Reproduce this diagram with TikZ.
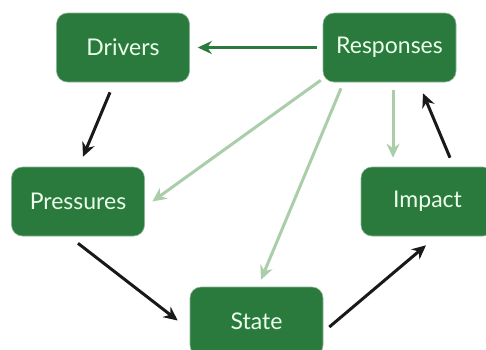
\documentclass[tikz,border=0pt]{standalone}
\usepackage{fontspec}
\setmainfont{Lato}
\usetikzlibrary{arrows.meta}
\definecolor{boxgreen}{RGB}{42,121,61}
\definecolor{palegreen}{RGB}{170,205,170}
\begin{document}
\begin{tikzpicture}[x=1pt, y=-1pt,
    stage/.style={rectangle, rounded corners=11pt, fill=boxgreen, draw=boxgreen!55!white, line width=0.6pt,
        minimum width=133pt, minimum height=69pt, text=white!92!green, font=\fontsize{23}{26}\selectfont},
    cause/.style={-{Stealth[length=14pt, width=13pt]}, line width=3pt, black!90},
    reply/.style={-{Stealth[length=14pt, width=13pt]}, line width=3pt, boxgreen},
    feedback/.style={-{Stealth[length=14pt, width=13pt]}, line width=3pt, palegreen}]
\useasboundingbox (0,0) rectangle (486,349);

% The five DPSIR stages
\node[stage] (drivers)   at (123,47.5)   {Drivers};
\node[stage] (responses) at (389.5,47.5) {Responses};
\node[stage] (pressures) at (78,201.5)   {Pressures};
\node[stage] (impact)    at (427.5,201.5) {Impact};
\node[stage] (state)     at (256.5,321.5) {State};

% Main causal chain
\draw[cause] ([xshift=-13pt,yshift=-10pt]drivers.south) -- ([xshift=5pt,yshift=10pt]pressures.north);
\draw[cause] ([yshift=-7pt]pressures.south) -- ([xshift=-12pt,yshift=1pt]state.west);
\draw[cause] ([xshift=6pt,yshift=-5.5pt]state.east) -- ([xshift=-1.5pt,yshift=-9pt]impact.south);
\draw[cause] ([xshift=22.5pt,yshift=9pt]impact.north) -- ([xshift=33.5pt,yshift=-11pt]responses.south);

% Responses acting back on the chain
\draw[reply] ([xshift=-6pt]responses.west) -- ([xshift=8pt]drivers.east);
\draw[feedback] ([xshift=-2pt,yshift=2pt]responses.south west) -- ([xshift=7.5pt]pressures.east);
\draw[feedback] ([xshift=-48.5pt,yshift=-6pt]responses.south) -- ([xshift=4.5pt,yshift=7pt]state.north);
\draw[feedback] ([xshift=3.5pt,yshift=-8pt]responses.south) -- ([xshift=-34.5pt,yshift=9pt]impact.north);

\end{tikzpicture}
\end{document}
